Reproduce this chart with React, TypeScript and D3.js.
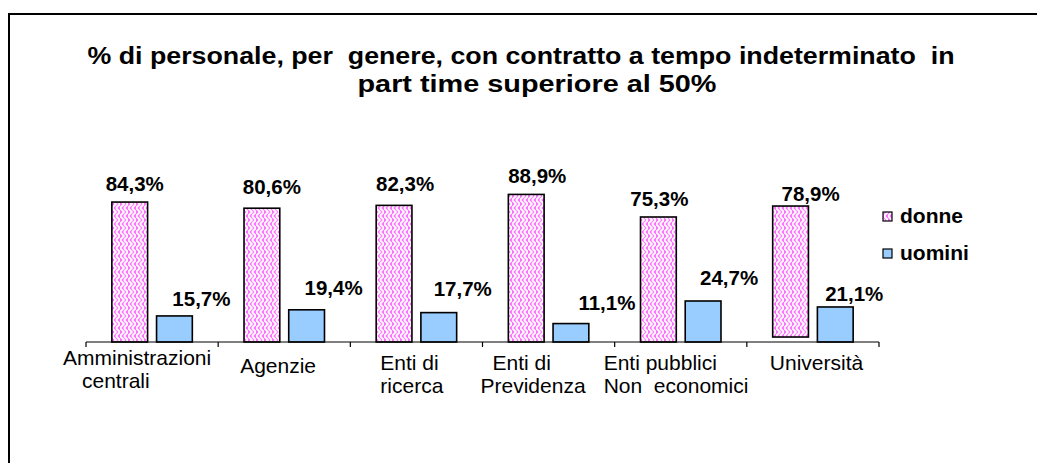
import React, { useEffect } from "react";
import * as d3 from "d3";

const categories = [
  ["Amministrazioni", "centrali"],
  ["Agenzie"],
  ["Enti di", "ricerca"],
  ["Enti di", "Previdenza"],
  ["Enti pubblici", "Non  economici"],
  ["Università"],
];
const seriesNames = ["donne", "uomini"];
const donne = [84.3, 80.6, 82.3, 88.9, 75.3, 78.9];
const uomini = [15.7, 19.4, 17.7, 11.1, 24.7, 21.1];
// the Università "donne" bar floats slightly above the axis in the original
const donneBase = [0, 0, 0, 0, 0, 3];
const donneLabels = ["84,3%", "80,6%", "82,3%", "88,9%", "75,3%", "78,9%"];
const uominiLabels = ["15,7%", "19,4%", "17,7%", "11,1%", "24,7%", "21,1%"];
const titleLines = [
  "% di personale, per  genere, con contratto a tempo indeterminato  in",
  "part time superiore al 50%",
];

// layout nudges (px) for the hand-placed labels of the original
const donneLabelDx = [5, 10, 11, 11, 1, 20];
const donneLabelGap = [11, 14, 14, 11, 11, 5];
const uominiLabelDx = [27, 27, 24, 36, 26, 19];
const uominiLabelGap = [10, 15, 17, 14, 16, 6];
const catLabelDx = [[-23, -4], [22], [30, 30], [10, -2], [-11, -11], [23]];
const catLabelY = [[365, 388], [373], [370, 393], [370, 393], [370, 393], [370]];

const W = 1037;
const H = 463;
const FONT = "Arial, 'Liberation Sans', Helvetica, sans-serif";

export default function App() {
  useEffect(() => {
    document.documentElement.style.overflow = "hidden";
    document.body.style.overflow = "hidden";
  }, []);

  const x0 = d3
    .scaleBand<number>()
    .domain(d3.range(categories.length))
    .range([86, 879])
    .paddingInner(0)
    .paddingOuter(0);
  const x1 = d3
    .scaleBand<string>()
    .domain(seriesNames)
    .range([0, x0.bandwidth()])
    .paddingInner(0.2)
    .paddingOuter(0.578);
  const y = d3.scaleLinear().domain([0, 100]).range([342, 176]);
  const baseY = y(0);

  const ticks = d3.range(categories.length + 1).map((i) =>
    i < categories.length ? x0(i)! : x0(categories.length - 1)! + x0.bandwidth()
  );

  return (
    <svg
      width={W}
      height={H}
      style={{ position: "fixed", left: 0, top: 0, background: "#fff" }}
      fontFamily={FONT}
    >
      <defs>
        <pattern id="weave" width="8" height="8" patternUnits="userSpaceOnUse">
          <rect width="8" height="8" fill="#ff70ff" />
          <path
            d="M0,0 L4,4 L0,8 M4,0 L8,4 L4,8"
            stroke="#fff"
            strokeWidth="1.8"
            fill="none"
          />
        </pattern>
      </defs>
      <rect x={0} y={0} width={W} height={H} fill="#fff" />
      <rect
        x={9}
        y={14}
        width={W + 20}
        height={H + 20}
        fill="none"
        stroke="#000"
        strokeWidth={2}
      />

      {titleLines.map((t, i) => (
        <text
          key={i}
          x={i === 0 ? 521 : 537}
          y={64 + i * 28}
          textAnchor="middle"
          fontSize={23}
          fontWeight="bold"
          textLength={i === 0 ? 867 : 359}
          lengthAdjust="spacingAndGlyphs"
          style={{ whiteSpace: "pre" }}
        >
          {t}
        </text>
      ))}

      {categories.map((_, i) => {
        const bx = x0(i)!;
        const dx = bx + x1("donne")!;
        const ux = bx + x1("uomini")!;
        const bw = x1.bandwidth();
        const dTop = y(donne[i] + donneBase[i]);
        const dBot = y(donneBase[i]);
        const uTop = y(uomini[i]);
        return (
          <g key={i}>
            <rect
              x={dx}
              y={dTop}
              width={bw}
              height={dBot - dTop}
              fill="url(#weave)"
              stroke="#000"
              strokeWidth={1.6}
            />
            <rect
              x={ux}
              y={uTop}
              width={bw}
              height={baseY - uTop}
              fill="#99ccff"
              stroke="#000"
              strokeWidth={1.6}
            />
            <text
              x={dx + bw / 2 + donneLabelDx[i]}
              y={dTop - donneLabelGap[i]}
              textAnchor="middle"
              fontSize={20.5}
              fontWeight="bold"
            >
              {donneLabels[i]}
            </text>
            <text
              x={ux + bw / 2 + uominiLabelDx[i]}
              y={uTop - uominiLabelGap[i]}
              textAnchor="middle"
              fontSize={20.5}
              fontWeight="bold"
            >
              {uominiLabels[i]}
            </text>
            {categories[i].map((line, j) => (
              <text
                key={j}
                x={bx + catLabelDx[i][j]}
                y={catLabelY[i][j]}
                fontSize={21}
                style={{ whiteSpace: "pre" }}
              >
                {line}
              </text>
            ))}
          </g>
        );
      })}

      <line x1={ticks[0]} x2={ticks[ticks.length - 1]} y1={baseY} y2={baseY} stroke="#000" strokeWidth={1.2} />
      {ticks.map((t, i) => (
        <line key={i} x1={t} x2={t} y1={baseY} y2={baseY + 5} stroke="#000" strokeWidth={1.2} />
      ))}

      {seriesNames.map((s, i) => (
        <g key={s}>
          <rect
            x={883}
            y={i === 0 ? 212 : 249}
            width={9}
            height={9}
            fill={i === 0 ? "url(#weave)" : "#99ccff"}
            stroke="#000"
            strokeWidth={1.2}
          />
          <text x={900} y={i === 0 ? 223 : 260} fontSize={21} fontWeight="bold">
            {s}
          </text>
        </g>
      ))}
    </svg>
  );
}
